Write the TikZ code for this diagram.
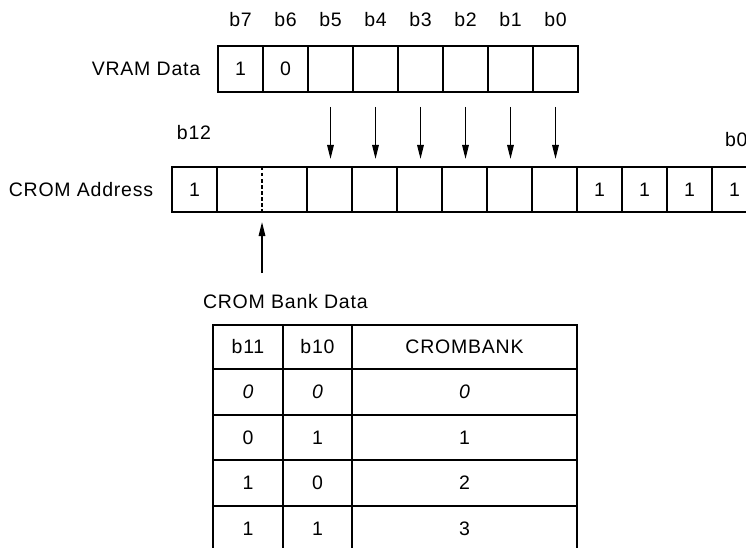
\documentclass[tikz,border=0pt]{standalone}
\usepackage{fontspec}
\setmainfont[LetterSpace=4]{Liberation Sans}
\usetikzlibrary{arrows.meta,calc}
\begin{document}
\begin{tikzpicture}[x=1pt,y=-1pt,
  every node/.style={font=\fontsize{19.5}{23}\selectfont, inner sep=0pt, outer sep=0pt},
  cell/.style={draw, line width=1.6pt, minimum width=45pt, minimum height=46pt, anchor=north west},
  ncell/.style={line width=1.6pt, minimum width=45pt, minimum height=45pt, anchor=north west},
  tcell/.style={draw, line width=1.6pt, anchor=north west},
  lbl/.style={},
  arr/.style={line width=1.5pt, -{Triangle[length=14pt,width=6.5pt]}},
  bline/.style={line width=1.6pt}
]
\useasboundingbox (0,0) rectangle (746,548);
\clip (0,0) rectangle (746,548);

% VRAM data register
\node[lbl] (vlabel) at (146,69) {VRAM Data};
\node[cell] (v7) at (218,46) {1};
\node[cell] (v6) at (263,46) {0};
\node[cell] (v5) at (308,46) {};
\node[cell] (v4) at (353,46) {};
\node[cell] (v3) at (398,46) {};
\node[cell] (v2) at (443,46) {};
\node[cell] (v1) at (488,46) {};
\node[cell] (v0) at (533,46) {};
\foreach \n in {7,6,5,4,3,2,1,0}
  \node[lbl] (vb\n) at ($(v\n.north)+(0,-26)$) {b\n};

% CROM address register
\node[lbl] (clabel) at (81,190) {CROM Address};
\node[lbl] (c12lbl) at (194,133) {b12};
\node[lbl, anchor=west] (c0lbl) at (725,140) {b0};
\node[ncell, draw] (c12) at (172,167) {1};
\node[ncell] (c11) at (217,167) {};
\node[ncell] (c10) at (262,167) {};
\node[ncell, draw] (c9) at (307,167) {};
\node[ncell, draw] (c8) at (352,167) {};
\node[ncell, draw] (c7) at (397,167) {};
\node[ncell, draw] (c6) at (442,167) {};
\node[ncell, draw] (c5) at (487,167) {};
\node[ncell, draw] (c4) at (532,167) {};
\node[ncell, draw] (c3) at (577,167) {1};
\node[ncell, draw] (c2) at (622,167) {1};
\node[ncell, draw] (c1) at (667,167) {1};
\node[ncell, draw] (c0) at (712,167) {1};
\draw[bline] (c11.north west) -- (c10.north east);
\draw[bline] (c11.south west) -- (c10.south east);
\draw[bline, dashed, dash pattern=on 3.5pt off 2.5pt] (c11.north east) -- (c11.south east);

% transfer arrows
\foreach \v/\c in {5/9,4/8,3/7,2/6,1/5,0/4}
  \draw[arr, shorten <=15pt, shorten >=8pt] (v\v.south) -- (v\v.south |- c\c.north);

% bank pointer arrow
\coordinate (bankptr) at (262,273);
\draw[arr, shorten >=10pt] (bankptr) -- (c11.south east);

% CROM bank table
\node[lbl, anchor=west] (tlabel) at (203,302) {CROM Bank Data};
\node[tcell, minimum width=70pt, minimum height=44pt] (t01) at (213,325) {b11};
\node[tcell, minimum width=69pt, minimum height=44pt] (t02) at (283,325) {b10};
\node[tcell, minimum width=225pt, minimum height=44pt] (t03) at (352,325) {CROMBANK};
\node[tcell, minimum width=70pt, minimum height=46pt] (t11) at (213,369) {\itshape 0};
\node[tcell, minimum width=69pt, minimum height=46pt] (t12) at (283,369) {\itshape 0};
\node[tcell, minimum width=225pt, minimum height=46pt] (t13) at (352,369) {\itshape 0};
\node[tcell, minimum width=70pt, minimum height=45pt] (t21) at (213,415) {0};
\node[tcell, minimum width=69pt, minimum height=45pt] (t22) at (283,415) {1};
\node[tcell, minimum width=225pt, minimum height=45pt] (t23) at (352,415) {1};
\node[tcell, minimum width=70pt, minimum height=46pt] (t31) at (213,460) {1};
\node[tcell, minimum width=69pt, minimum height=46pt] (t32) at (283,460) {0};
\node[tcell, minimum width=225pt, minimum height=46pt] (t33) at (352,460) {2};
\node[tcell, minimum width=70pt, minimum height=46pt] (t41) at (213,506) {1};
\node[tcell, minimum width=69pt, minimum height=46pt] (t42) at (283,506) {1};
\node[tcell, minimum width=225pt, minimum height=46pt] (t43) at (352,506) {3};
\end{tikzpicture}
\end{document}
